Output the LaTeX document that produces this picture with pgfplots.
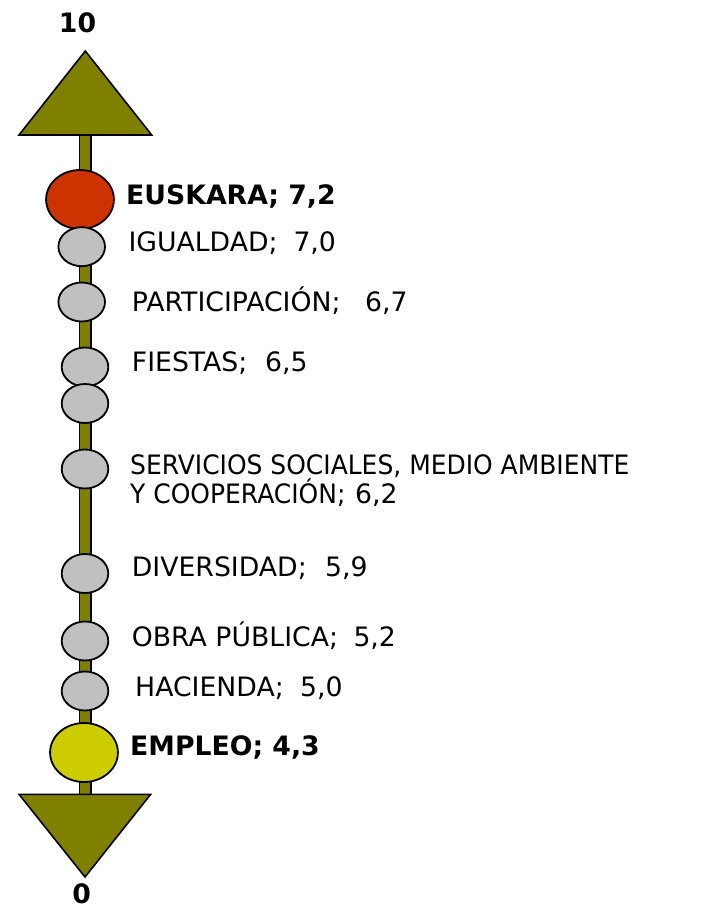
\documentclass[border=0pt]{standalone}
\usepackage{fontspec}
\setmainfont{DejaVu Sans}
\newfontfamily\narrowfam{DejaVu Sans}[FakeStretch=0.935]
\usepackage{pgfplots}
\usepackage{pgfplotstable}
\pgfplotsset{compat=1.18}
\definecolor{stem}{HTML}{808000}
\definecolor{euskara}{HTML}{CC3300}
\definecolor{empleo}{HTML}{CCCC00}
\definecolor{dot}{HTML}{C0C0C0}

% positions are in pixels from the top left of the picture
% cx, cy: circle; tx: name start; vx: value start; ty: baseline of the last line
\pgfplotstableread[col sep=semicolon]{
name;value;cx;cy;tx;vx;ty
IGUALDAD;7.0;81.7;246.7;128.3;293.3;251.7
PARTICIPACIÓN;6.7;81.7;302;131.7;365;311
FIESTAS;6.5;85;367;131.7;265;371.7
{\narrowfam SERVICIOS SOCIALES, MEDIO AMBIENTE\\\narrowfam Y COOPERACIÓN};6.2;85;469;130;355;503
DIVERSIDAD;5.9;85;573.5;131.7;325;576.7
{OBRA PÚBLICA};5.2;85;641;131.7;353.3;646.7
HACIENDA;5.0;85;691;135;300;696.7
}\grayareas

\newcommand{\lblfont}{\fontsize{26.7bp}{29bp}\selectfont}
\newcommand{\val}[1]{\pgfmathprintnumber[fixed,fixed zerofill,precision=1,use comma,assume math mode=true]{#1}}

\begin{document}
\begin{tikzpicture}
\begin{axis}[
    width=707bp, height=913bp, scale only axis,
    xmin=0, xmax=707, ymin=0, ymax=913,
    y dir=reverse,
    hide axis, clip=false,
]
\path (rel axis cs:0,0) rectangle (rel axis cs:1,1);

% the stem
\addplot[black, line width=13bp] coordinates {(85,130) (85,800)};
\addplot[stem, line width=9.8bp] coordinates {(85,130) (85,800)};

% arrow heads
\addplot[fill=stem, draw=black, line width=1.6bp] coordinates {(19,135) (151.7,135) (85.3,51)} -- cycle;
\addplot[fill=stem, draw=black, line width=1.6bp] coordinates {(19,794.3) (150.7,794.3) (85,877)} -- cycle;

% top: EUSKARA
\addplot[only marks, mark=*, mark size=29.5bp,
    mark options={fill=euskara, draw=black, line width=1.8bp, xscale=1.15}]
    coordinates {(80,199.5)};

% grey areas
\addplot[only marks, mark=*, mark size=19.5bp,
    mark options={fill=dot, draw=black, line width=1.8bp, xscale=1.195}]
    table[x=cx, y=cy] {\grayareas};
\addplot[only marks, mark=*, mark size=19.5bp,
    mark options={fill=dot, draw=black, line width=1.8bp, xscale=1.195}]
    coordinates {(85,403.5)};

% bottom: EMPLEO
\addplot[only marks, mark=*, mark size=29.5bp,
    mark options={fill=empleo, draw=black, line width=1.8bp, xscale=1.15}]
    coordinates {(84,752.5)};

% labels: names, then values
\addplot[draw=none, mark=none,
    point meta=explicit symbolic,
    nodes near coords={\pgfplotspointmeta;},
    nodes near coords style={anchor=base west, inner sep=0pt, align=left, font=\lblfont},
] table[x=tx, y=ty, meta=name] {\grayareas};
\addplot[draw=none, mark=none,
    point meta=\thisrow{value},
    nodes near coords={\val{\pgfplotspointmeta}},
    nodes near coords style={anchor=base west, inner sep=0pt, font=\lblfont},
] table[x=vx, y=ty] {\grayareas};

\addplot[draw=none, mark=none, point meta=explicit,
    nodes near coords={EUSKARA; \val{\pgfplotspointmeta}},
    nodes near coords style={anchor=base west, inner sep=0pt, font=\lblfont\bfseries},
] coordinates {(126,205) [7.2]};
\addplot[draw=none, mark=none, point meta=explicit,
    nodes near coords={EMPLEO; \val{\pgfplotspointmeta}},
    nodes near coords style={anchor=base west, inner sep=0pt, font=\lblfont\bfseries},
] coordinates {(130,755) [4.3]};

% ends of the scale
\node[anchor=base, inner sep=0pt, font=\lblfont\bfseries] at (axis cs:77.5,33) {10};
\node[anchor=base, inner sep=0pt, font=\lblfont\bfseries] at (axis cs:81.7,903.5) {0};
\end{axis}
\end{tikzpicture}
\end{document}
